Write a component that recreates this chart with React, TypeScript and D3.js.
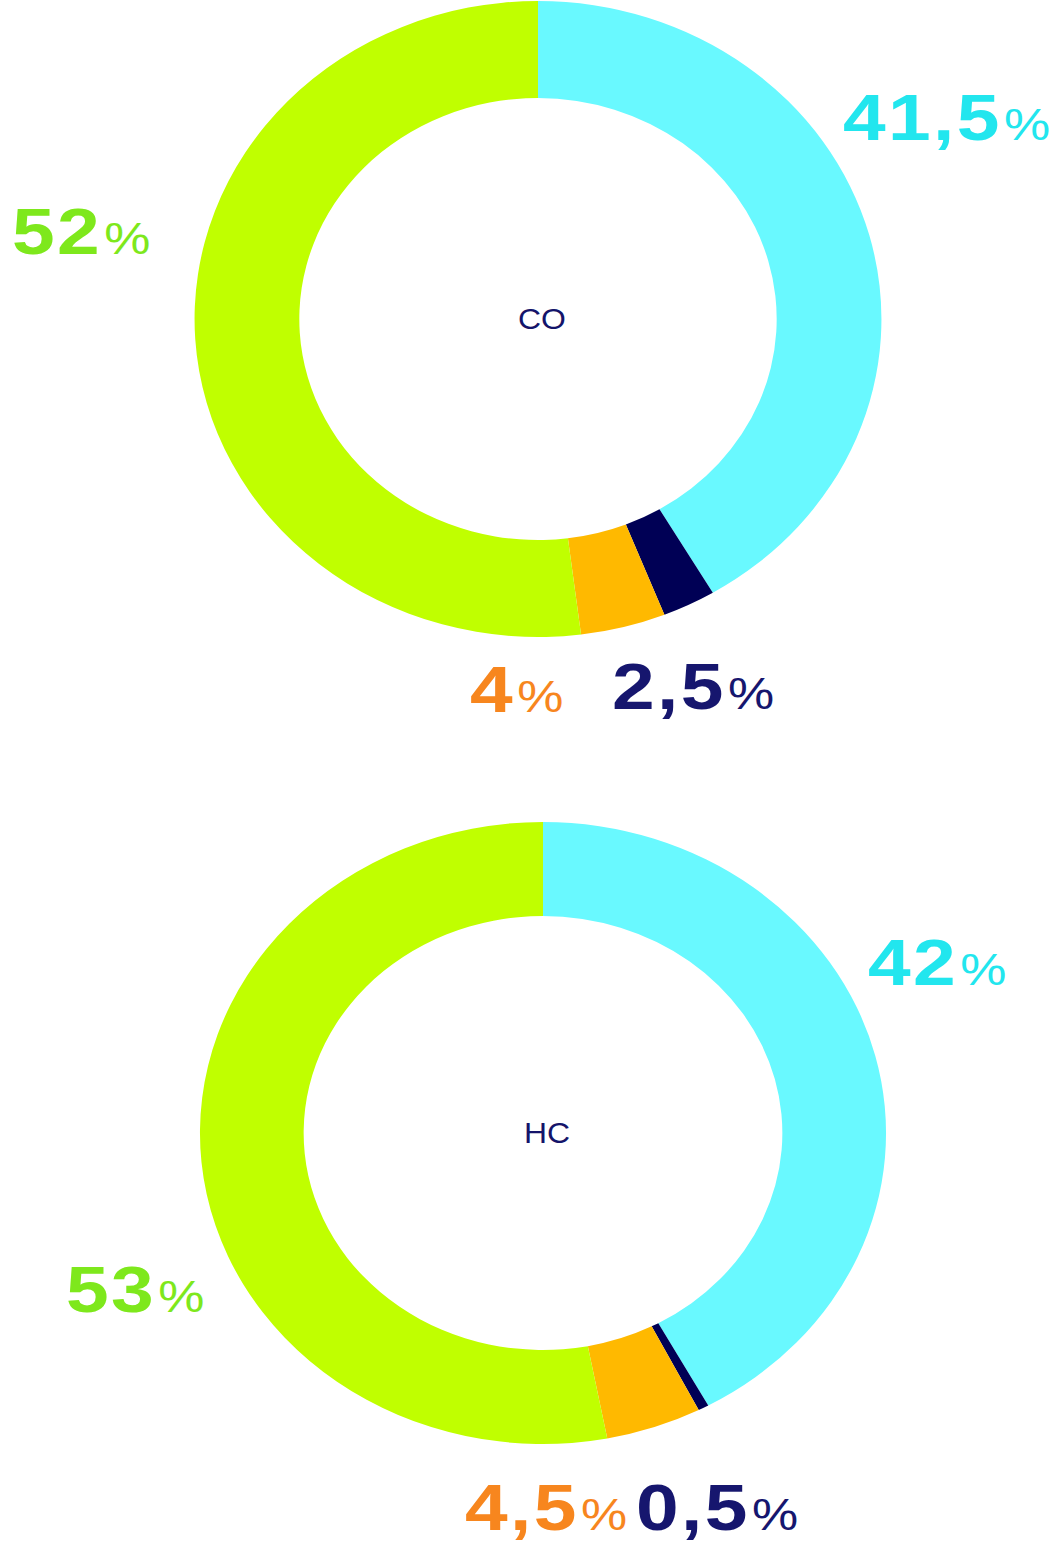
import React from "react";
import * as d3 from "d3";

const categories = ["A", "B", "C", "D"];
const coValues = [41.5, 2.5, 4, 52];
const hcValues = [42, 0.5, 4.5, 53];
const coLabels = ["41,5", "2,5", "4", "52"];
const hcLabels = ["42", "0,5", "4,5", "53"];
const sliceColors = ["#69f9ff", "#000055", "#ffb900", "#c0ff00"];
const labelColors = ["#22e6ee", "#16166e", "#f7861e", "#7ee81c"];

type Donut = {
  name: string;
  values: number[];
  labels: string[];
  cx: number;
  cy: number;
  r: number;
  ir: number;
  sx: number;
  labelPos: [number, number][];
};

const donuts: Donut[] = [
  {
    name: "CO",
    values: coValues,
    labels: coLabels,
    cx: 538,
    cy: 319,
    r: 318,
    ir: 221,
    sx: 1.08,
    labelPos: [[843, 140], [612, 709], [470, 712], [12, 254]],
  },
  {
    name: "HC",
    values: hcValues,
    labels: hcLabels,
    cx: 543,
    cy: 1133,
    r: 311,
    ir: 217,
    sx: 1.103,
    labelPos: [[868, 985], [636, 1530], [465, 1530], [66, 1312]],
  },
];

export default function App() {
  const pie = d3.pie<number>().sort(null).value((d) => d);
  return (
    <svg
      width={1059}
      height={1544}
      style={{ position: "absolute", left: 0, top: 0, background: "#fff" }}
    >
      {donuts.map((dn) => {
        const arc = d3.arc<d3.PieArcDatum<number>>().innerRadius(dn.ir).outerRadius(dn.r);
        const arcs = pie(dn.values);
        return (
          <g key={dn.name}>
            <g transform={`translate(${dn.cx},${dn.cy}) scale(${dn.sx},1)`}>
              {arcs.map((a, i) => (
                <path key={categories[i]} d={arc(a) || ""} fill={sliceColors[i]} />
              ))}
            </g>
            <text
              transform={`translate(${dn.cx + 4},${dn.cy + 10}) scale(1.1,1)`}
              textAnchor="middle"
              fontFamily="Liberation Sans, Arial, sans-serif"
              fontSize={29}
              fill="#14146a"
            >
              {dn.name}
            </text>
            {dn.labels.map((lb, i) => (
              <text
                key={"l" + i}
                transform={`translate(${dn.labelPos[i][0]},${dn.labelPos[i][1]}) scale(1.18,1)`}
                fontFamily="Liberation Sans, Arial, sans-serif"
                fill={labelColors[i]}
                letterSpacing={2}
              >
                <tspan fontSize={65} fontWeight="bold">{lb}</tspan>
                <tspan fontSize={44} dx={2}>%</tspan>
              </text>
            ))}
          </g>
        );
      })}
    </svg>
  );
}
